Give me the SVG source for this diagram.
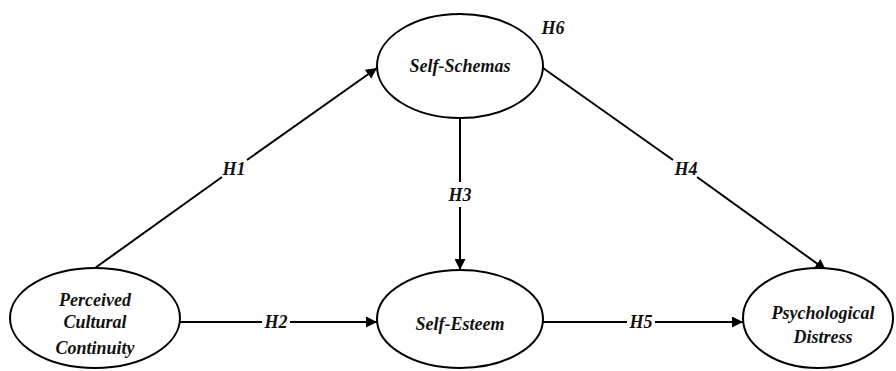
<svg xmlns="http://www.w3.org/2000/svg" width="896" height="371" viewBox="0 0 896 371">
<style>
.n{fill:#fff;stroke:#000;stroke-width:2}
.t{font-family:"Liberation Serif",serif;font-weight:bold;font-style:italic;font-size:18px;fill:#111;text-anchor:middle}
.c{stroke:#000;stroke-width:2;fill:none}
</style>
<defs>
<marker id="a" viewBox="0 0 10 10" refX="10" refY="5" markerWidth="5.5" markerHeight="5.5" orient="auto" markerUnits="strokeWidth">
<path d="M0,0 L10,5 L0,10 z" fill="#000"/>
</marker>
</defs>
<rect width="896" height="371" fill="#fff"/>
<g id="connectors">
<path class="c" d="M95,268 L222,177"/>
<path class="c" d="M247,160 L377,68" marker-end="url(#a)"/>
<path class="c" d="M180,322 L262,322"/>
<path class="c" d="M290,322 L377,322" marker-end="url(#a)"/>
<path class="c" d="M460,118 L460,182"/>
<path class="c" d="M460,207 L460,270" marker-end="url(#a)"/>
<path class="c" d="M543,68 L673,160"/>
<path class="c" d="M697,177 L826,270" marker-end="url(#a)"/>
<path class="c" d="M543,322 L627,322"/>
<path class="c" d="M655,322 L743,322" marker-end="url(#a)"/>
<text class="t" x="234" y="175">H1</text>
<text class="t" x="276" y="328">H2</text>
<text class="t" x="460" y="201">H3</text>
<text class="t" x="686" y="175">H4</text>
<text class="t" x="641" y="328">H5</text>
<text class="t" x="553" y="34">H6</text>
</g>
<g id="self-schemas">
<ellipse class="n" cx="460" cy="66" rx="83" ry="52"/>
<text class="t" x="460" y="72">Self-Schemas</text>
</g>
<g id="perceived-cultural-continuity">
<ellipse class="n" cx="95" cy="318" rx="85" ry="50"/>
<text class="t" x="95" y="306">Perceived</text>
<text class="t" x="95" y="328">Cultural</text>
<text class="t" x="95" y="354">Continuity</text>
</g>
<g id="self-esteem">
<ellipse class="n" cx="460" cy="319" rx="83" ry="49"/>
<text class="t" x="460" y="330">Self-Esteem</text>
</g>
<g id="psychological-distress">
<ellipse class="n" cx="818" cy="318" rx="75" ry="50"/>
<text class="t" x="823" y="319">Psychological</text>
<text class="t" x="823" y="343">Distress</text>
</g>
</svg>
